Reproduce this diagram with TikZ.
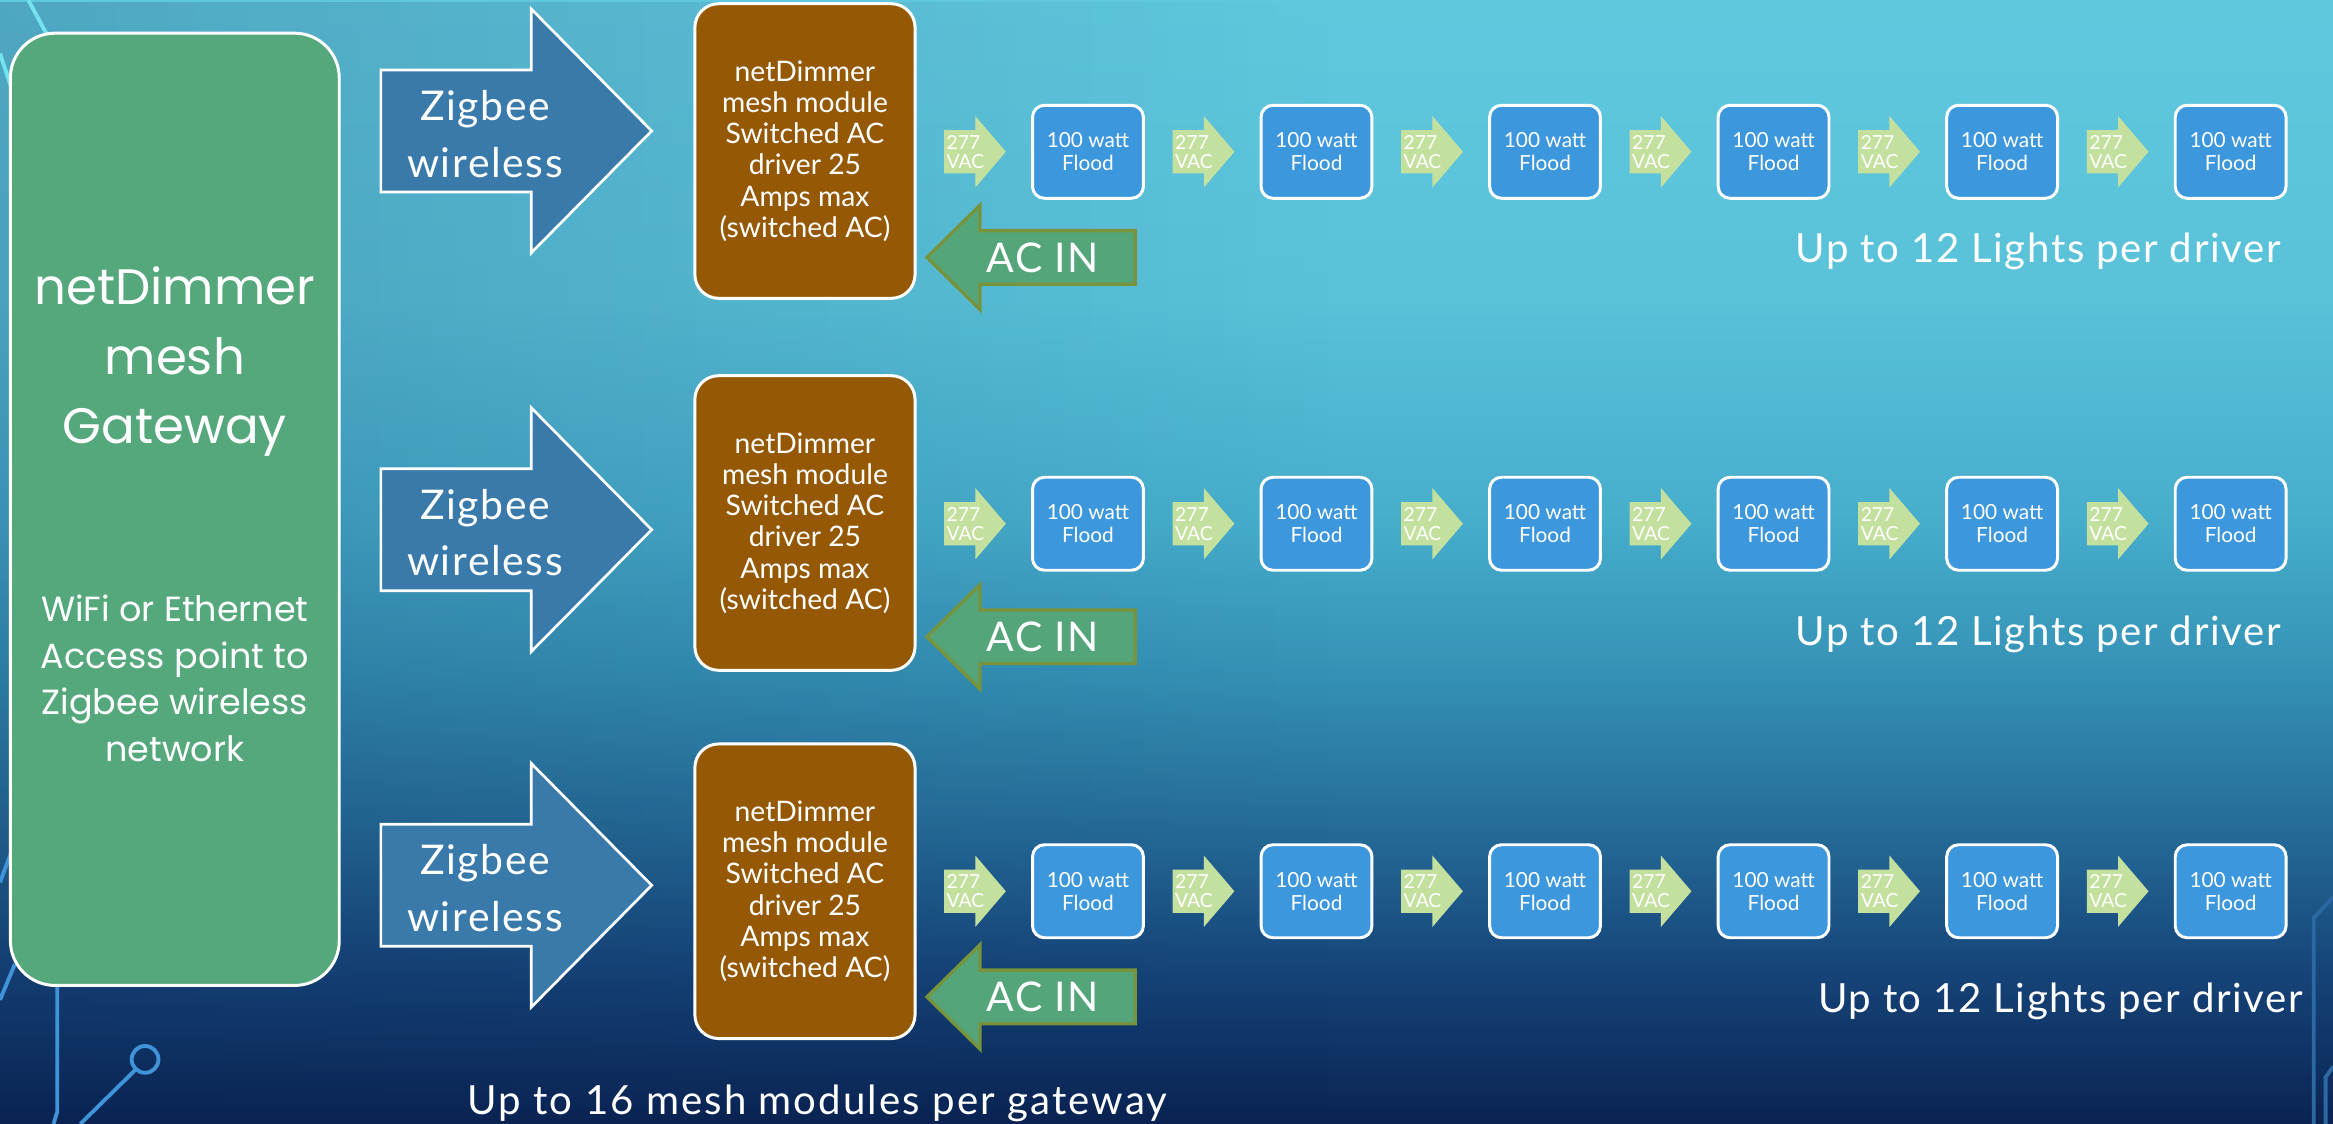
\documentclass[tikz,border=0pt]{standalone}
\usepackage{fontspec}
\setmainfont{Lato}
\newfontfamily\gwfont{Poppins}
\newfontfamily\widefont[LetterSpace=4]{Lato}
\newfontfamily\widerfont[LetterSpace=5.2]{Lato}
\usetikzlibrary{fadings}
\definecolor{bg0}{HTML}{0A2352}
\definecolor{bg1}{HTML}{16457A}
\definecolor{bg2}{HTML}{266E9A}
\definecolor{bg3}{HTML}{3592B6}
\definecolor{bg4}{HTML}{46ADCB}
\definecolor{bg5}{HTML}{59C2D9}
\definecolor{bg6}{HTML}{60C8DD}
\definecolor{gwgreen}{HTML}{55A77C}
\definecolor{zigblue}{HTML}{3A7AAB}
\definecolor{modbrown}{HTML}{955906}
\definecolor{floodblue}{HTML}{3D97DD}
\definecolor{vacgreen}{HTML}{C4E09F}
\definecolor{acgreen}{HTML}{55A57B}
\definecolor{acedge}{HTML}{77933C}
\definecolor{cyanline}{HTML}{74E2EF}
\definecolor{circblue}{HTML}{3F93D8}
\definecolor{rightline}{HTML}{2C69A2}
\pgfdeclareverticalshading{bgshade}{100bp}{color(0bp)=(bg0); color(25bp)=(bg0); color(32bp)=(bg1); color(38.6bp)=(bg2); color(45.2bp)=(bg3); color(51.8bp)=(bg4); color(61.75bp)=(bg5); color(75bp)=(bg6); color(100bp)=(bg6)}
\begin{document}
\begin{tikzpicture}[x=1pt,y=-1pt,
  gwbox/.style={draw=white, line width=2pt, fill=gwgreen, rounded corners=30pt, inner sep=0pt},
  gwtext/.style={text=white, align=center, inner sep=0pt},
  zigfill/.style={fill=zigblue, draw=white, line width=1.8pt, line join=miter},
  zigtext/.style={text=white, align=center, inner sep=0pt, font=\widefont\fontsize{27.5}{38}\selectfont},
  modbox/.style={minimum width=148pt, minimum height=198pt, fill=modbrown, draw=white, line width=2pt, rounded corners=16pt, text=white, align=center, inner sep=0pt, font=\fontsize{19}{21}\selectfont},
  vacarrow/.style={fill=vacgreen},
  vactext/.style={text=white, align=left, inner sep=0pt, font=\fontsize{13}{13}\selectfont},
  flood/.style={minimum width=74.5pt, minimum height=62.5pt, rounded corners=8pt, fill=floodblue, draw=white, line width=2pt, text=white, align=center, inner sep=0pt, font=\fontsize{14}{15.7}\selectfont},
  acarrow/.style={fill=acgreen, draw=acedge, line width=2.2pt, line join=miter},
  actext/.style={text=white, inner sep=0pt, font=\widefont\fontsize{27.5}{30}\selectfont},
  bigtext/.style={text=white, inner sep=0pt, font=\widefont\fontsize{27}{30}\selectfont},
  cline/.style={line width=2.6pt, line cap=butt}
]
\useasboundingbox (0,0) rectangle (1568,755.4);
\shade[shading=bgshade] (0,0) rectangle (1568,755.4);
\fill[bg0, fill opacity=0.2, path fading=east] (0,0) rectangle (900,755.4);

% circuit decoration
\draw[cline, cyanline] (19,0) -- (32,24);
\draw[cline, cyanline] (0,36) -- (8,60);
\draw[cline, circblue] (0,593) -- (9,569);
\draw[cline, circblue] (0,672) -- (10,648);
\draw[cline, circblue] (38.5,660) -- (38.5,747) -- (36,755.4);
\draw[cline, circblue] (97.5,712) circle[radius=9];
\draw[cline, circblue] (91,719) -- (54,755.4);
\draw[cline, rightline] (1568,603) -- (1555,617) -- (1555,755.4);
\draw[cline, rightline] (1568,717) -- (1563,724) -- (1563,755.4);

% gateway
\node[gwbox, minimum width=221pt, minimum height=640pt] (gw) at (117.5,342.3) {};
\node[gwtext, font=\gwfont\fontsize{33.5}{46.5}\selectfont] (gwtitle) at (117.5,243) {netDimmer\\mesh\\Gateway};
\node[gwtext, font=\gwfont\fontsize{23.5}{31.3}\selectfont] (gwsub) at (117.5,456) {WiFi or Ethernet\\Access point to\\Zigbee wireless\\network};

% zigbee arrows
\foreach \c/\n in {88/1,356/2,595/3}{
  \filldraw[zigfill] (256,\c-41) -- (357,\c-41) -- (357,\c-82) -- (438,\c) -- (357,\c+82) -- (357,\c+41) -- (256,\c+41) -- cycle;
  \node[zigtext] (zig\n) at (326,\c+2) {Zigbee\\wireless};
}

% mesh modules
\foreach \c/\n in {101.5/1,351.5/2,599/3}{
  \node[modbox] (mod\n) at (541,\c) {netDimmer\\mesh module\\Switched AC\\driver 25\\Amps max\\(switched AC)};
}

% 277 VAC arrows and floods
\foreach \c/\r in {102/1,352/2,599/3}{
  \foreach \i in {0,...,5}{
    \pgfmathsetmacro\xa{634.5+153.6*\i}
    \fill[vacarrow] (\xa,\c-14.5) -- (\xa+21,\c-14.5) -- (\xa+21,\c-24) -- (\xa+41.5,\c) -- (\xa+21,\c+24) -- (\xa+21,\c+14.5) -- (\xa,\c+14.5) -- cycle;
    \node[vactext, anchor=west] (vac\r\i) at (\xa+1.5,\c) {277\\VAC};
    \node[flood] (fl\r\i) at (\xa+96.7,\c) {100 watt\\Flood};
  }
}

% AC IN arrows
\foreach \c/\n in {173/1,428/2,670/3}{
  \filldraw[acarrow] (623,\c) -- (658.6,\c-35) -- (658.6,\c-18) -- (763,\c-18) -- (763,\c+18) -- (658.6,\c+18) -- (658.6,\c+35) -- cycle;
  \node[actext] (ac\n) at (701,\c) {AC IN};
}

% captions
\node[bigtext, anchor=base east] (lights1) at (1533,176.5) {Up to 12 Lights per driver};
\node[bigtext, anchor=base east] (lights2) at (1533,433.5) {Up to 12 Lights per driver};
\node[bigtext, anchor=base east] (lights3) at (1548,680.6) {Up to 12 Lights per driver};
\node[bigtext, font=\widerfont\fontsize{27}{30}\selectfont, anchor=base west] (meshmods) at (314,749) {Up to 16 mesh modules per gateway};
\end{tikzpicture}
\end{document}
